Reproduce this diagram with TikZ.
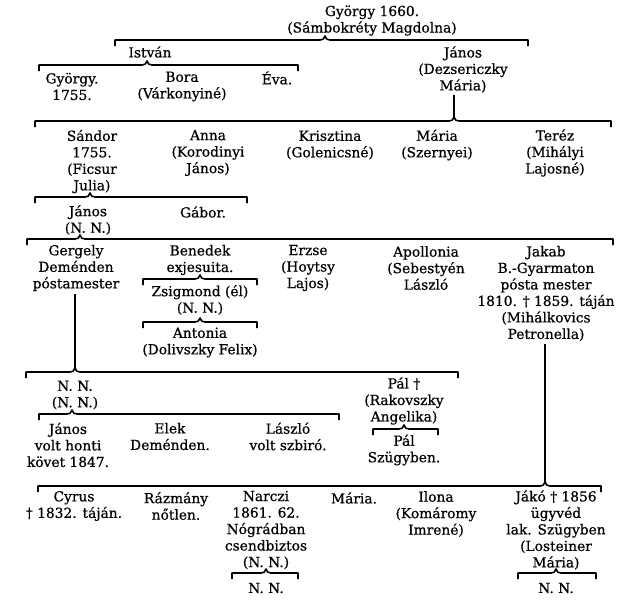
\documentclass[tikz,border=0pt]{standalone}
\usepackage{fontspec}
\setmainfont{DejaVu Serif}[FakeBold=0.6]
\newcommand\kin[4]{\draw[brk] (#1,#4+6) -- (#1,#4) -- (#3-5,#4) .. controls (#3-2,#4) and (#3-1,#4-1) .. (#3,#4-4) .. controls (#3+1,#4-1) and (#3+2,#4) .. (#3+5,#4) -- (#2,#4) -- (#2,#4+6);}
\begin{document}
\begin{tikzpicture}[x=1pt,y=-1pt,
  person/.style={align=center, inner sep=0pt, font={\fontsize{13.8}{16.5}\selectfont}},
  brk/.style={line width=1.6pt, line join=round},
  link/.style={line width=1.6pt}]
\useasboundingbox[fill=white] (0,0) rectangle (626,600);
% generation 1
\node[person] (gy1660) at (372,20.5) {György 1660.\\(Sámbokréty Magdolna)};
\kin{115}{528}{325}{40}
\node[person] (istvan) at (150,52) {István};
\node[person] (janosD) at (463,69.5) {János\\(Dezsericzky\\Mária)};
\kin{39}{298}{147}{65}
\node[person] (gyorgy) at (72,86.5) {György.\\1755.};
\node[person] (bora) at (182,86.5) {Bora\\(Várkonyiné)};
\node[person] (eva) at (277,78) {Éva.};
\coordinate (c3) at (454,117);
\draw[link] ([yshift=-2pt]janosD.south -| c3) -- (c3);
\kin{35}{611}{454}{121}
% Sandor row
\node[person] (sandor) at (92,161.5) {Sándor\\1755.\\(Ficsur\\Julia)};
\node[person] (anna) at (208,153) {Anna\\(Korodinyi\\János)};
\node[person] (krisztina) at (330,145) {Krisztina\\(Golenicsné)};
\node[person] (maria1) at (437,145) {Mária\\(Szernyei)};
\node[person] (terez) at (555,153) {Teréz\\(Mihályi\\Lajosné)};
\kin{35}{247}{90}{197}
\node[person] (janos3) at (88,220) {János\\(N. N.)};
\node[person] (gabor) at (203,212) {Gábor.};
\kin{27}{613}{80}{239}
% Gergely row
\node[person] (gergely) at (76,268) {Gergely\\Deménden\\póstamester};
\node[person] (benedek) at (200,260) {Benedek\\exjesuita.};
\kin{143}{257}{200}{279}
\node[person] (zsigmond) at (200,300) {Zsigmond (él)\\(N. N.)};
\kin{143}{257}{200}{322}
\node[person] (antonia) at (200,342.5) {Antonia\\(Dolivszky Felix)};
\node[person] (erzse) at (308,268) {Erzse\\(Hoytsy\\Lajos)};
\node[person] (apollonia) at (426,268) {Apollonia\\(Sebestyén\\László};
\node[person] (jakab) at (546,293.5) {Jakab\\B.-Gyarmaton\\pósta mester\\1810. † 1859. táján\\(Mihálkovics\\Petronella)};
\coordinate (c8) at (75,368);
\draw[link] ([yshift=-3pt]gergely.south -| c8) -- (c8);
\kin{26}{458}{75}{372}
\node[person] (nn1) at (75,395) {N. N.\\(N. N.)};
\kin{39}{339}{72}{414}
\node[person] (janos4) at (68,445) {János\\volt honti\\követ 1847.};
\node[person] (elek) at (170,436.5) {Elek\\Deménden.};
\node[person] (laszlo) at (288,436.5) {László\\volt szbiró.};
\node[person] (pal1) at (404,401) {Pál †\\(Rakovszky\\Angelika)};
\kin{373}{438}{404}{429}
\node[person] (pal2) at (404,450) {Pál\\Szügyben.};
\coordinate (c10) at (545,482);
\draw[link] ([yshift=-3pt]jakab.south -| c10) -- (c10);
\kin{38}{601}{545}{486}
\node[person] (cyrus) at (74,506) {Cyrus\\† 1832. táján.};
\node[person] (razmany) at (176,506) {Rázmány\\nőtlen.};
\node[person] (narczi) at (266,530) {Narczi\\1861. 62.\\Nógrádban\\csendbiztos\\(N. N.)};
\kin{232}{298}{266}{573}
\node[person] (nn2) at (266,588) {N. N.};
\node[person] (maria2) at (354,498) {Mária.};
\node[person] (ilona) at (436,514) {Ilona\\(Komáromy\\Imrené)};
\node[person] (jako) at (556,530) {Jákó † 1856\\ügyvéd\\lak. Szügyben\\(Losteiner\\Mária)};
\kin{518}{596}{556}{573}
\node[person] (nn3) at (556,588) {N. N.};
\end{tikzpicture}
\end{document}
